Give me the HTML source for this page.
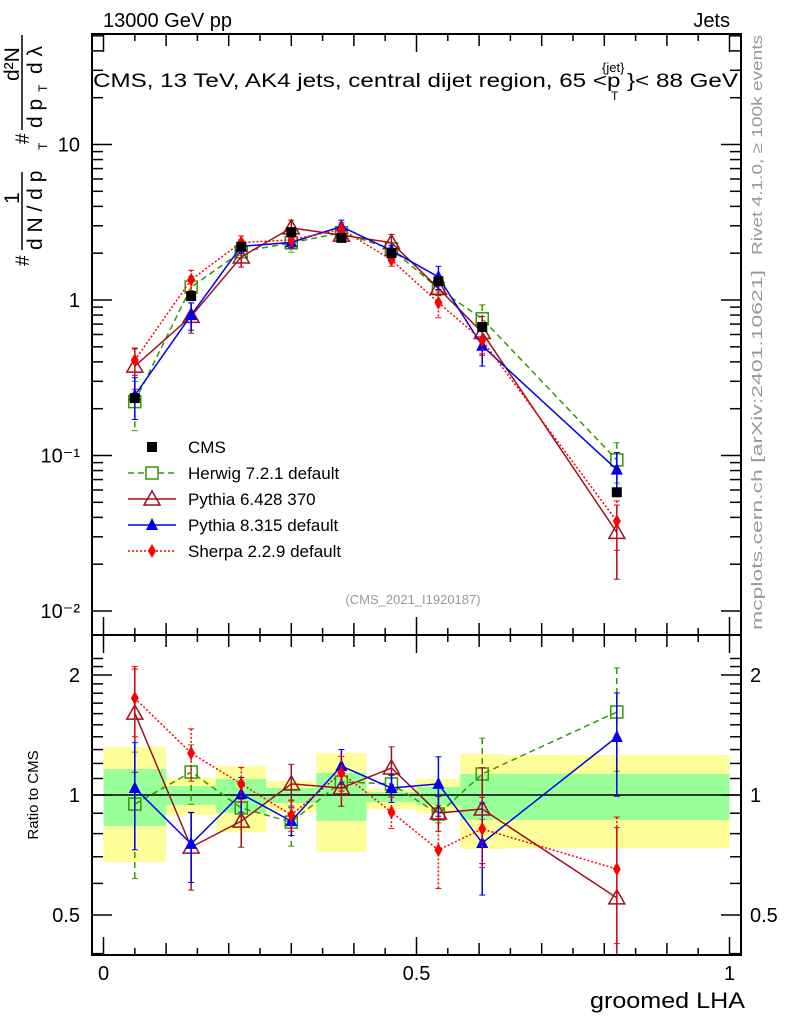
<!DOCTYPE html>
<html><head><meta charset="utf-8"><style>
html,body{margin:0;padding:0;background:#fff;}
svg{display:block;font-family:"Liberation Sans",sans-serif;}
</style></head><body>
<svg id="c" width="786" height="1024" viewBox="0 0 786 1024" xmlns="http://www.w3.org/2000/svg">
<g id="bands"></g><g id="grid"></g><g id="series"></g><g id="axes"></g><g id="labels"></g>
</svg>
<script>
// ---- data ----
const xCenters = [0.05, 0.14, 0.22, 0.30, 0.38, 0.46, 0.535, 0.605, 0.82];
const binEdges = [0, 0.1, 0.18, 0.26, 0.34, 0.42, 0.5, 0.57, 0.64, 1.0];
const cmsValues = [0.234, 1.06, 2.2, 2.73, 2.51, 2.0, 1.32, 0.67, 0.058];
const bandYellowUp = [1.319, 1.103, 1.182, 1.084, 1.274, 1.035, 1.097, 1.267, 1.26];
const bandYellowDn = [0.679, 0.891, 0.807, 0.906, 0.719, 0.922, 0.901, 0.732, 0.736];
const bandGreenUp = [1.162, 1.053, 1.097, 1.041, 1.136, 1.017, 1.047, 1.129, 1.129];
const bandGreenDn = [0.836, 0.944, 0.901, 0.955, 0.861, 0.960, 0.944, 0.866, 0.866];
const herwigRatio = [0.949, 1.142, 0.928, 0.855, 1.078, 1.066, 0.896, 1.129, 1.615];
const pythia6Ratio = [1.605, 0.74, 0.86, 1.066, 1.041, 1.169, 0.901, 0.922, 0.552];
const pythia8Ratio = [1.041, 0.754, 1.006, 0.86, 1.182, 1.041, 1.066, 0.758, 1.398];
const sherpaRatio = [1.75, 1.274, 1.066, 0.891, 1.136, 0.906, 0.728, 0.822, 0.652];
const herwigErr = [0.35, 0.17, 0.05, 0.13, 0.05, 0.05, 0.05, 0.23, 0.29];
const pythia6Err = [0.29, 0.22, 0.14, 0.12, 0.10, 0.13, 0.10, 0.27, 0.5];
const pythia8Err = [0.30, 0.20, 0.10, 0.08, 0.10, 0.08, 0.17, 0.26, 0.29];
const sherpaErr = [0.20, 0.15, 0.10, 0.09, 0.10, 0.09, 0.20, 0.20, 0.35];
const mainTickLabels = ["10\u207B\u00B2", "10\u207B\u00B9", "1", "10"];
const ratioTickVals = [0.5, 1, 2];
const xTickVals = [0, 0.5, 1];

// ---- axes ----
const NS = "http://www.w3.org/2000/svg";
const FL = 92, FR = 741, FT = 34, FM = 635, FB = 955;
const X = v => 103.5 + 626 * v;
const YM = v => 300 - 155.5 * Math.log10(v);
const YR = v => 795 - 398.6 * Math.log10(v);
function el(tag, attrs, parent, text) {
  const e = document.createElementNS(NS, tag);
  for (const k in attrs) e.setAttribute(k, attrs[k]);
  if (text !== undefined) e.textContent = text;
  parent.appendChild(e); return e;
}
const gB = document.getElementById('bands'), gS = document.getElementById('series'),
      gA = document.getElementById('axes'), gL = document.getElementById('labels');

for (let i = 0; i < binEdges.length - 1; i++) {
  const x0 = X(binEdges[i]), x1 = X(binEdges[i + 1]);
  const y = el('rect', {x: x0, y: YR(bandYellowUp[i]), width: x1 - x0, height: YR(bandYellowDn[i]) - YR(bandYellowUp[i]), fill: '#ffff99'}, gB);
  
  
  const g = el('rect', {x: x0, y: YR(bandGreenUp[i]), width: x1 - x0, height: YR(bandGreenDn[i]) - YR(bandGreenUp[i]), fill: '#99ff99'}, gB);
  
  
}
const l1 = el('line', {x1: FL, x2: FR, y1: YR(1), y2: YR(1), stroke: '#000', 'stroke-width': 1.5}, gB);



const models = [
  {name: 'herwig', ratio: herwigRatio, err: herwigErr, color: '#339900', dash: '6,4', marker: 'sqo'},
  {name: 'pythia6', ratio: pythia6Ratio, err: pythia6Err, color: '#a01020', dash: '', marker: 'tro'},
  {name: 'pythia8', ratio: pythia8Ratio, err: pythia8Err, color: '#0000ee', dash: '', marker: 'trf'},
  {name: 'sherpa', ratio: sherpaRatio, err: sherpaErr, color: '#ff0000', dash: '2,2', marker: 'dia'}
];
function marker(type, x, y, color, parent) {
  let m;
  if (type === 'sqo') m = el('rect', {x: x - 6, y: y - 6, width: 12, height: 12, fill: 'none', stroke: color, 'stroke-width': 1.5}, parent);
  else if (type === 'sqf') m = el('rect', {x: x - 5, y: y - 5, width: 10, height: 10, fill: color}, parent);
  else if (type === 'tro') m = el('polygon', {points: `${x},${y - 8} ${x - 8},${y + 6} ${x + 8},${y + 6}`, fill: 'none', stroke: color, 'stroke-width': 1.5}, parent);
  else if (type === 'trf') m = el('polygon', {points: `${x},${y - 7} ${x - 6},${y + 5} ${x + 6},${y + 5}`, fill: color}, parent);
  else m = el('polygon', {points: `${x},${y - 7} ${x - 4},${y} ${x},${y + 7} ${x + 4},${y}`, fill: color}, parent);
  return m;
}
function clipDefs() {
  const d = el('defs', {}, document.getElementById('c'));
  const c1 = el('clipPath', {id: 'cm'}, d); el('rect', {x: FL, y: FT, width: FR - FL, height: FM - FT}, c1);
  const c2 = el('clipPath', {id: 'cr'}, d); el('rect', {x: FL, y: FM, width: FR - FL, height: FB - FM}, c2);
}
clipDefs();
const gMain = el('g', {'clip-path': 'url(#cm)'}, gS);
const gRat = el('g', {'clip-path': 'url(#cr)'}, gS);
models.forEach(m => {
  [[gMain, (i) => cmsValues[i] * m.ratio[i], YM], [gRat, (i) => m.ratio[i], YR]].forEach(([par, val, Y]) => {
    const pts = xCenters.map((x, i) => `${X(x)},${Y(val(i))}`).join(' ');
    const pl = el('polyline', {points: pts, fill: 'none', stroke: m.color, 'stroke-width': 1.5, 'stroke-dasharray': m.dash}, par);
    
    
    xCenters.forEach((x, i) => {
      const v = val(i), up = v * (1 + m.err[i]), dn = Math.max(v * (1 - m.err[i]), 1e-4);
      const eb = el('line', {x1: X(x), x2: X(x), y1: Y(up), y2: Y(dn), stroke: m.color, 'stroke-width': 1.5, 'stroke-dasharray': m.dash}, par);
      
      
      el('line', {x1: X(x) - 3, x2: X(x) + 3, y1: Y(up), y2: Y(up), stroke: m.color}, par);
      el('line', {x1: X(x) - 3, x2: X(x) + 3, y1: Y(dn), y2: Y(dn), stroke: m.color}, par);
      const mk = marker(m.marker, X(x), Y(v), m.color, par);
      
      
    });
  });
});
xCenters.forEach((x, i) => {
  const mk = marker('sqf', X(x), YM(cmsValues[i]), '#000', gMain);
  
  
});

el('rect', {x: FL, y: FT, width: FR - FL, height: FM - FT, fill: 'none', stroke: '#000', 'stroke-width': 2}, gA);
el('rect', {x: FL, y: FM, width: FR - FL, height: FB - FM, fill: 'none', stroke: '#000', 'stroke-width': 2}, gA);
for (let t = 0; t <= 1.0001; t += 0.05) {
  const major = Math.abs(t * 2 - Math.round(t * 2)) < 1e-6;
  const tenth = Math.abs(t * 10 - Math.round(t * 10)) < 1e-6;
  const len = major ? 18 : (tenth ? 12 : 7);
  [FM, FB].forEach(yb => el('line', {x1: X(t), x2: X(t), y1: yb, y2: yb - len, stroke: '#000', 'stroke-width': 1.5}, gA));
  [FT, FM].forEach(yt => el('line', {x1: X(t), x2: X(t), y1: yt, y2: yt + len, stroke: '#000', 'stroke-width': 1.5}, gA));
}
xTickVals.forEach(v => { const t = el('text', {x: X(v), y: 980, 'font-size': 20, 'text-anchor': 'middle'}, gL, String(v));   });
for (let d = -2; d <= 1; d++) {
  for (let k = 1; k <= 9; k++) {
    const v = k * Math.pow(10, d), y = YM(v);
    if (y < FT || y > FM) continue;
    const len = k === 1 ? 20 : 11;
    el('line', {x1: FL, x2: FL + len, y1: y, y2: y, stroke: '#000', 'stroke-width': 1.5}, gA);
    el('line', {x1: FR, x2: FR - len, y1: y, y2: y, stroke: '#000', 'stroke-width': 1.5}, gA);
  }
}
mainTickLabels.forEach((s, i) => {
  const t = el('text', {x: 80, y: YM(Math.pow(10, i - 2)) + 7, 'font-size': 20, 'text-anchor': 'end'}, gL, s);
  
  
});
for (let v = 0.4; v <= 2.3; v += 0.1) {
  const y = YR(v); if (y < FM || y > FB) continue;
  const maj = ratioTickVals.some(r => Math.abs(r - v) < 1e-6);
  const len = maj ? 20 : 11;
  el('line', {x1: FL, x2: FL + len, y1: y, y2: y, stroke: '#000', 'stroke-width': 1.5}, gA);
  el('line', {x1: FR, x2: FR - len, y1: y, y2: y, stroke: '#000', 'stroke-width': 1.5}, gA);
}
ratioTickVals.forEach(v => {
  const s = String(v);
  const a = el('text', {x: 80, y: YR(v) + 7, 'font-size': 20, 'text-anchor': 'end'}, gL, s);
   
  const b = el('text', {x: 750, y: YR(v) + 7, 'font-size': 20}, gL, s);
   
});

const legend = [
  ['CMS', '#000', '', 'sqf'], ['Herwig 7.2.1 default', '#339900', '6,4', 'sqo'],
  ['Pythia 6.428 370', '#a01020', '', 'tro'], ['Pythia 8.315 default', '#0000ee', '', 'trf'],
  ['Sherpa 2.2.9 default', '#ff0000', '2,2', 'dia']
];
legend.forEach((L, i) => {
  const y = 447 + 26 * i;
  const g = el('g', {}, gL);
  
  
  if (i > 0) el('line', {x1: 128, x2: 176, y1: y, y2: y, stroke: L[1], 'stroke-width': 1.5, 'stroke-dasharray': L[2]}, g);
  marker(L[3], 152, y, L[1], g);
  if (i > 0 && L[3] === 'sqo') g.lastChild.setAttribute('fill', '#fff');
  el('text', {x: 188, y: y + 6, 'font-size': 17}, g, L[0]);
});
</script>
<svg width="786" height="1024" style="position:absolute;left:0;top:0" xmlns="http://www.w3.org/2000/svg" font-family="Liberation Sans, sans-serif">
<text x="103" y="27" font-size="20">13000 GeV pp</text>
<text x="730" y="27" font-size="20" text-anchor="end">Jets</text>
<text x="93" y="87" font-size="19" textLength="645" lengthAdjust="spacingAndGlyphs">CMS, 13 TeV, AK4 jets, central dijet region, 65 &lt;p  }&lt; 88 GeV</text>
<text x="602" y="72" font-size="13">{jet}</text>
<text x="611" y="100" font-size="12">T</text>
<text x="413" y="604" font-size="13" fill="#999" text-anchor="middle">(CMS_2021_I1920187)</text>
<text x="745" y="1008" font-size="22" text-anchor="end" textLength="155" lengthAdjust="spacingAndGlyphs">groomed LHA</text>
<text transform="translate(38,795) rotate(-90)" font-size="15" text-anchor="middle">Ratio to CMS</text>
<g transform="rotate(-90)">
<text x="-266" y="29" font-size="19">#</text>
<line x1="-250" x2="-172" y1="22" y2="22" stroke="#000" stroke-width="1.5"/>
<text x="-204" y="19" font-size="21">1</text>
<text x="-250" y="42" font-size="21">d N / d p</text>
<text x="-150" y="47" font-size="12">T</text>
<text x="-144" y="29" font-size="19">#</text>
<line x1="-130" x2="-35" y1="22" y2="22" stroke="#000" stroke-width="1.5"/>
<text x="-81" y="19" font-size="21">d²N</text>
<text x="-128" y="42" font-size="21">d p</text>
<text x="-92" y="47" font-size="12">T</text>
<text x="-74" y="42" font-size="21">d λ</text>
</g>
<text transform="translate(762,255) rotate(-90)" font-size="15" fill="#999" textLength="220" lengthAdjust="spacingAndGlyphs">Rivet 4.1.0, ≥ 100k events</text>
<text transform="translate(762,630) rotate(-90)" font-size="15" fill="#999" textLength="360" lengthAdjust="spacingAndGlyphs">mcplots.cern.ch [arXiv:2401.10621]</text>
</svg>
</body></html>
